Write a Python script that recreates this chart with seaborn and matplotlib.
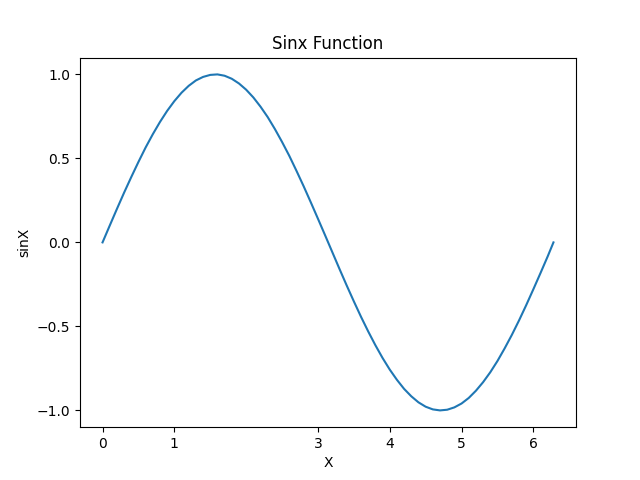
import pandas as pd
import seaborn as sns
from matplotlib import pyplot as plt

# values
x_values = [0.0, 0.1, 0.2, 0.3, 0.4, 0.5, 0.6, 0.7, 0.8, 0.9,
            1.0, 1.1, 1.2, 1.3, 1.4, 1.5, 1.6, 1.7, 1.8, 1.9,
            2.0, 2.1, 2.2, 2.3, 2.4, 2.5, 2.6, 2.7, 2.8, 2.9,
            3.0, 3.1, 3.2, 3.3, 3.4, 3.5, 3.6, 3.7, 3.8, 3.9,
            4.0, 4.1, 4.2, 4.3, 4.4, 4.5, 4.6, 4.7, 4.8, 4.9,
            5.0, 5.1, 5.2, 5.3, 5.4, 5.5, 5.6, 5.7, 5.8, 5.9,
            6.0, 6.1, 6.2, 6.28]
sin_values = [0.000, 0.100, 0.199, 0.296, 0.389, 0.479, 0.565, 0.644, 0.717, 0.783,
              0.841, 0.891, 0.932, 0.964, 0.985, 0.997, 1.000, 0.992, 0.974, 0.946,
              0.909, 0.863, 0.808, 0.746, 0.675, 0.598, 0.516, 0.427, 0.335, 0.239,
              0.141, 0.042, -0.058, -0.158, -0.256, -0.351, -0.443, -0.530, -0.612, -0.688,
              -0.757, -0.818, -0.872, -0.916, -0.952, -0.978, -0.994, -1.000, -0.996, -0.982,
              -0.959, -0.926, -0.883, -0.832, -0.773, -0.706, -0.631, -0.551, -0.465, -0.374,
              -0.279, -0.182, -0.083, 0.000]
x_ticks = [0, 1, 3, 4, 5, 6]
y_ticks = [-1.0, -0.5, 0.0, 0.5, 1.0]

df = pd.DataFrame({"X": x_values, "sinX": sin_values})

fig = plt.figure(figsize=(6.4, 4.8), dpi=100)
ax = sns.lineplot(x="X", y="sinX", data=df, color="#1f77b4")
ax.set_xticks(x_ticks)
ax.set_yticks(y_ticks)
plt.title("Sinx Function")
plt.xlabel("X")
plt.ylabel("sinX")

fig.savefig("out.png", dpi=100)
